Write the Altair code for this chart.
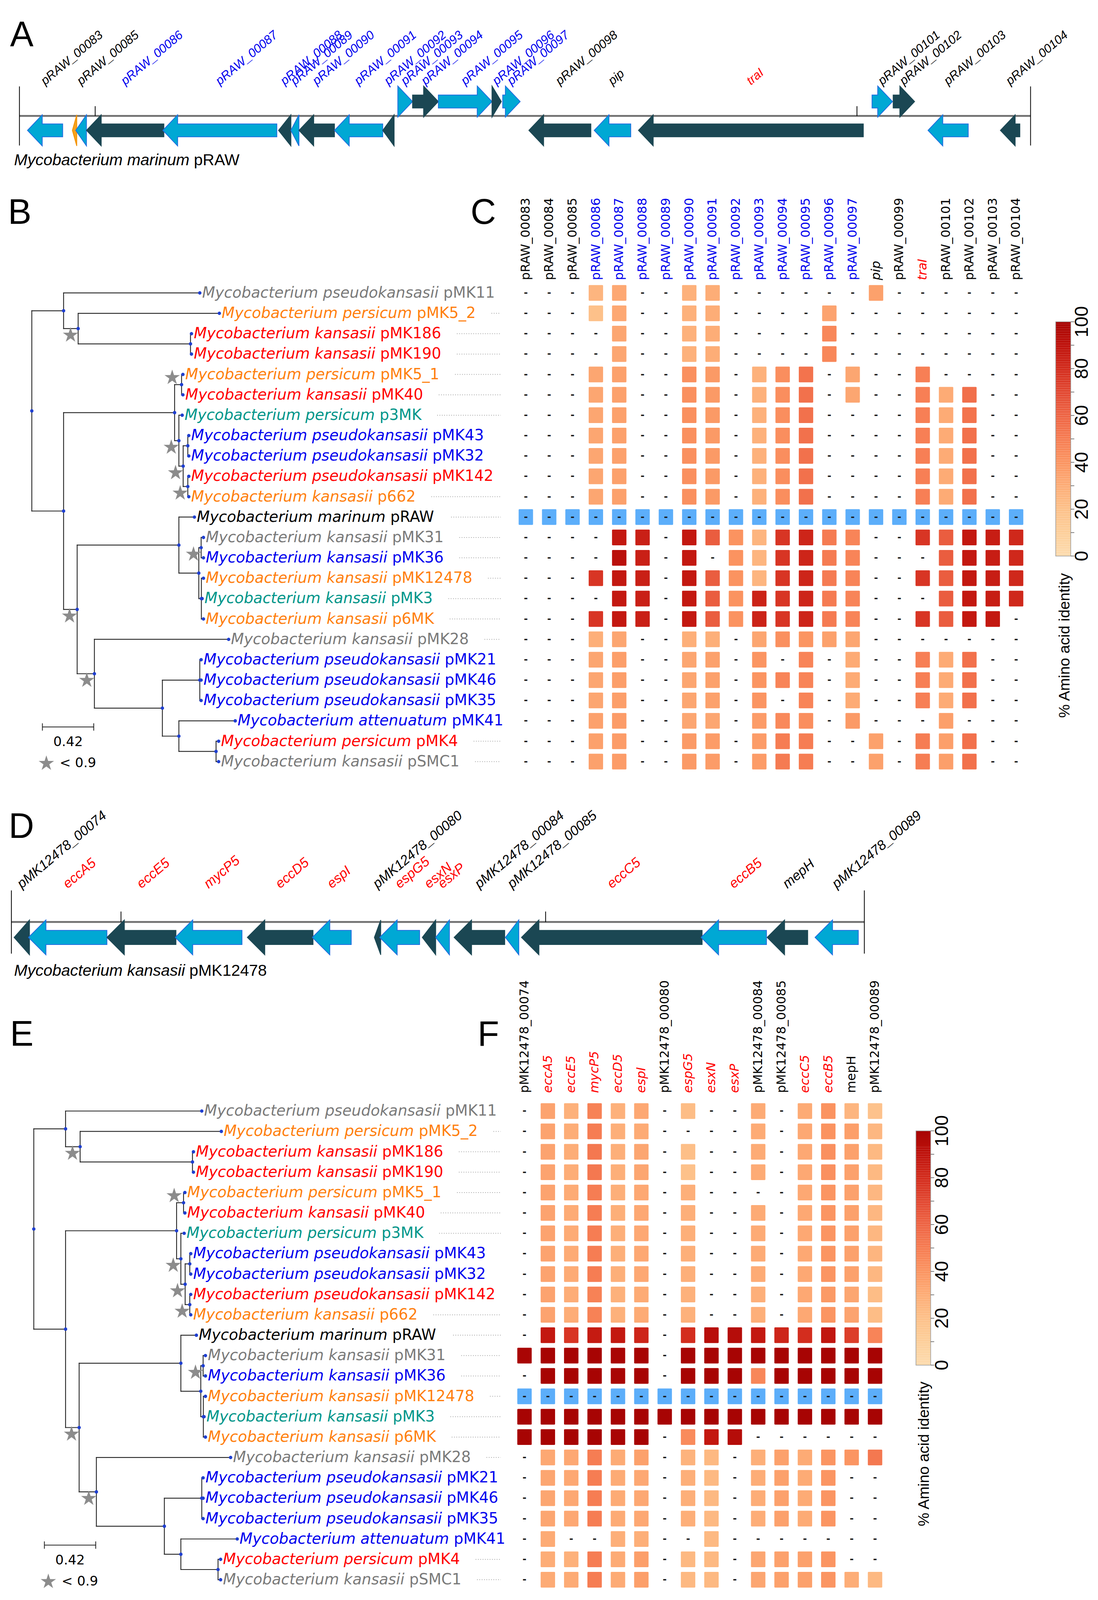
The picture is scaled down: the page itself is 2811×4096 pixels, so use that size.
import altair as alt
import pandas as pd

S = 0.858          # reference px -> page px
MRG = 8            # page margin


def P(v):
    return v * S - MRG


CW, CH = 2795, 4080
N = None

# ---------------- colours ----------------
LIGHT, LIGHT_EDGE = "#00a8d4", "#1d6ce0"
DARK = "#1b4753"
ORANGE, ORANGE_EDGE = "#f7a21e", "#f29100"
REF_BLUE = "#5caefa"
GRAY, ORG, RED, TEAL, BLUE, BLACK = "#7a7a7a", "#ff7f0e", "#ff0000", "#00968a", "#0000ee", "#000000"
KIND_FILL = {"light": LIGHT, "dark": DARK, "orange": ORANGE}
KIND_EDGE = {"light": LIGHT_EDGE, "dark": DARK, "orange": ORANGE_EDGE}
HEAT = alt.Scale(scheme="orangered", domain=[0, 100])

# ---------------- panel A data (pRAW locus, bp) ----------------
A_LABELS = ["pRAW_00083", "", "pRAW_00085", "pRAW_00086", "pRAW_00087", "pRAW_00088", "pRAW_00089",
            "pRAW_00090", "pRAW_00091", "pRAW_00092", "pRAW_00093", "pRAW_00094", "pRAW_00095",
            "pRAW_00096", "pRAW_00097", "pRAW_00098", "pip", "traI", "pRAW_00101", "pRAW_00102",
            "pRAW_00103", "pRAW_00104"]
A_START = [240, 1580, 1680, 2000, 4280, 7730, 8100, 8340, 9400, 10840, 11290, 11730, 12500, 14100,
           14420, 15200, 17150, 18470, 25440, 26070, 27110, 29270]
A_END = [1290, 1710, 2000, 4310, 7680, 8100, 8340, 9400, 10840, 11180, 11730, 12500, 14100, 14380,
         14940, 17050, 18240, 25180, 26050, 26710, 28310, 29850]
A_STRAND = [-1, -1, -1, -1, -1, -1, -1, -1, -1, -1, 1, 1, 1, 1, 1, -1, -1, -1, 1, 1, -1, -1]
A_KIND = ["light", "orange", "light", "dark", "light", "dark", "light", "dark", "light", "dark",
          "light", "dark", "light", "dark", "light", "dark", "light", "dark", "light", "dark",
          "light", "dark"]
A_LCOLOR = [BLACK, BLACK, BLACK] + [BLUE] * 12 + [BLACK, BLACK, RED, BLACK, BLACK, BLACK, BLACK]
A_LENGTH = 30170
A_TICKS = [2260, 24990]

# ---------------- panel D data (pMK12478 ESX locus, bp) ----------------
D_LABELS = ["pMK12478_00074", "eccA5", "eccE5", "mycP5", "eccD5", "espI", "pMK12478_00080",
            "espG5", "esxN", "esxP", "pMK12478_00084", "pMK12478_00085", "eccC5", "eccB5", "mepH",
            "pMK12478_00089"]
D_START = [80, 510, 2850, 4890, 7040, 8980, 10830, 10990, 12260, 12660, 13210, 14740, 15220,
           20580, 22550, 23980]
D_END = [540, 2850, 4910, 6880, 9000, 10140, 11020, 12180, 12660, 13070, 14720, 15140, 20610,
         22530, 23760, 25270]
D_STRAND = [-1] * 16
D_KIND = ["dark", "light"] * 8
D_LCOLOR = [BLACK, RED, RED, RED, RED, RED, BLACK, RED, RED, RED, BLACK, BLACK, RED, RED, BLACK, BLACK]
D_LENGTH = 25450
D_TICKS = [3270, 15940]

# ---------------- phylogeny ----------------
TIPS = ["pMK11", "pMK5_2", "pMK186", "pMK190", "pMK5_1", "pMK40", "p3MK", "pMK43", "pMK32",
        "pMK142", "p662", "pRAW", "pMK31", "pMK36", "pMK12478", "pMK3", "p6MK", "pMK28", "pMK21",
        "pMK46", "pMK35", "pMK41", "pMK4", "pSMC1"]
PSK, PER, KAN = "Mycobacterium pseudokansasii", "Mycobacterium persicum", "Mycobacterium kansasii"
TIP_SPECIES = [PSK, PER, KAN, KAN, PER, KAN, PER, PSK, PSK, PSK, KAN, "Mycobacterium marinum",
               KAN, KAN, KAN, KAN, KAN, KAN, PSK, PSK, PSK, "Mycobacterium attenuatum", PER, KAN]
TIP_COLOR = [GRAY, ORG, RED, RED, ORG, RED, TEAL, BLUE, BLUE, RED, ORG, BLACK, GRAY, BLUE, ORG,
             TEAL, ORG, GRAY, BLUE, BLUE, BLUE, BLUE, RED, GRAY]
TREE_NODE = ["root", "U", "pMK11", "U2", "pMK5_2", "U3", "pMK186", "pMK190", "L", "L1", "L1a",
             "pMK5_1", "pMK40", "L1b", "p3MK", "L1c", "L1d", "pMK43", "pMK32", "L1e", "pMK142",
             "p662", "L2", "L2a", "pRAW", "L2c", "L2d", "pMK31", "pMK36", "L2e", "pMK12478", "pMK3",
             "p6MK", "L2b", "pMK28", "L2f", "L2g", "pMK21", "pMK46", "pMK35", "L2h", "pMK41", "L2i",
             "pMK4", "pSMC1"]
TREE_PARENT = [None, "root", "U", "U", "U2", "U2", "U3", "U3", "root", "L", "L1", "L1a", "L1a",
               "L1", "L1b", "L1b", "L1c", "L1d", "L1d", "L1c", "L1e", "L1e", "L", "L2", "L2a",
               "L2a", "L2c", "L2d", "L2d", "L2c", "L2e", "L2e", "L2e", "L2", "L2b", "L2b", "L2f",
               "L2g", "L2g", "L2g", "L2f", "L2h", "L2h", "L2i", "L2i"]
TREE_DEPTH = [0.0, 0.260, 1.374, 0.379, 1.534, 1.298, 1.306, 1.306, 0.260, 1.168, 1.225, 1.236,
              1.236, 1.203, 1.230, 1.238, 1.276, 1.284, 1.284, 1.276, 1.284, 1.284, 0.371, 1.203,
              1.330, 1.366, 1.385, 1.404, 1.404, 1.387, 1.404, 1.393, 1.404, 0.512, 1.610, 1.068,
              1.374, 1.385, 1.385, 1.385, 1.203, 1.664, 1.507, 1.528, 1.528]
STAR_BELOW = ["U2", "L1b", "L1c", "L1e", "L2d", "L2", "L2b"]
STAR_ABOVE = ["L1a"]
SCALE_BAR = 0.42

# ---------------- heatmap C (pRAW genes) ----------------
C_COLS = ["pRAW_00083", "pRAW_00084", "pRAW_00085", "pRAW_00086", "pRAW_00087", "pRAW_00088",
          "pRAW_00089", "pRAW_00090", "pRAW_00091", "pRAW_00092", "pRAW_00093", "pRAW_00094",
          "pRAW_00095", "pRAW_00096", "pRAW_00097", "pip", "pRAW_00099", "traI", "pRAW_00101",
          "pRAW_00102", "pRAW_00103", "pRAW_00104"]
C_COL_COLOR = [BLACK, BLACK, BLACK] + [BLUE] * 12 + [BLACK, BLACK, RED, BLACK, BLACK, BLACK, BLACK]
C_COL_ITALIC = [False] * 15 + [True, False, True, False, False, False, False]
C_REF = "pRAW"
C_VALUES = [
    [N, N, N, 26, 32, N, N, 28, 30, N, N, N, N, N, N, 35, N, N, N, N, N, N],
    [N, N, N, 20, 32, N, N, 28, 30, N, N, N, N, 34, N, N, N, N, N, N, N, N],
    [N, N, N, N, 33, N, N, 28, 30, N, N, N, N, 46, N, N, N, N, N, N, N, N],
    [N, N, N, N, 33, N, N, 28, 30, N, N, N, N, 46, N, N, N, N, N, N, N, N],
    [N, N, N, 33, 35, N, N, 42, 38, N, 28, 43, 54, N, 33, N, N, 49, N, N, N, N],
    [N, N, N, 33, 35, N, N, 42, 38, N, 28, 43, 55, N, 33, N, N, 49, 31, 56, N, N],
    [N, N, N, 33, 35, N, N, 42, 38, N, 28, 43, 55, N, N, N, N, 49, 31, 54, N, N],
    [N, N, N, 33, 35, N, N, 42, 38, N, 28, 43, 55, N, N, N, N, 49, 31, 55, N, N],
    [N, N, N, 33, 35, N, N, 42, 38, N, 28, 43, 55, N, N, N, N, 49, 31, 55, N, N],
    [N, N, N, 33, 35, N, N, 42, 38, N, 28, 43, 55, N, N, N, N, 49, 31, 55, N, N],
    [N, N, N, 33, 35, N, N, 42, 38, N, 28, 43, 55, N, N, N, N, 49, 31, 55, N, N],
    [N] * 22,
    [N, N, N, N, 88, 85, N, 88, 63, 41, 26, 77, 83, 51, 47, N, N, 77, 63, 88, 86, 82],
    [N, N, N, N, 92, 85, N, 88, N, 41, 26, 77, 83, 51, 47, N, N, N, 63, 88, 86, 82],
    [N, N, N, 77, 88, 85, N, 88, 63, 41, 26, 77, 83, 51, 47, N, N, 77, 63, 88, 86, 82],
    [N, N, N, N, 88, 85, N, 88, 63, 41, 84, 77, 83, 51, 47, N, N, N, 63, 88, 86, 82],
    [N, N, N, 77, 88, 85, N, 88, 63, 41, 84, 77, 83, 51, 47, N, N, 77, 63, 88, 88, N],
    [N, N, N, 29, 33, N, N, 29, 29, N, 33, 42, 40, 35, 33, N, N, N, N, N, N, N],
    [N, N, N, 33, 36, N, N, 33, 35, N, 40, N, 47, N, 31, N, N, 49, 31, 55, N, N],
    [N, N, N, 33, 36, N, N, 33, 35, N, 40, 47, 47, N, 31, N, N, 49, 31, 55, N, N],
    [N, N, N, 33, 36, N, N, 33, 35, N, 40, N, 47, N, 31, N, N, 49, 31, 55, N, N],
    [N, N, N, 35, 37, N, N, 33, 33, N, 37, 45, 43, N, 38, N, N, N, 36, N, N, N],
    [N, N, N, 35, 37, N, N, 38, 37, N, 37, 50, 50, N, N, 35, N, 50, 36, 55, N, N],
    [N, N, N, 35, 37, N, N, 38, 37, N, 37, 51, 50, N, N, 35, N, 50, 36, 55, N, N],
]

# ---------------- heatmap F (ESX-5 like locus) ----------------
F_COLS = D_LABELS
F_COL_COLOR = D_LCOLOR
F_COL_ITALIC = [c == RED for c in D_LCOLOR]
F_REF = "pMK12478"
F_VALUES = [
    [N, 34, 28, 48, 28, 32, N, 22, N, N, 31, N, 31, 41, 26, 19],
    [N, 34, 30, 50, 29, 31, N, N, N, N, 31, N, 32, 41, 36, 25],
    [N, 34, 30, 52, 29, 33, N, 21, N, N, 31, N, 32, 42, 35, 24],
    [N, 34, 30, 52, 29, 33, N, 20, N, N, 31, N, 32, 42, 35, 24],
    [N, 34, 31, 50, 29, 32, N, 29, N, N, N, N, 32, 40, 35, 25],
    [N, 34, 31, 50, 29, 32, N, 29, N, N, 31, N, 32, 40, 35, 25],
    [N, 34, 31, 50, 29, 32, N, 29, N, N, 31, N, 32, 40, 35, 25],
    [N, 34, 31, 50, 29, 32, N, 29, N, N, 31, N, 32, 40, 35, 26],
    [N, 34, 31, 50, 29, 32, N, 29, N, N, 31, N, 32, 40, 35, 25],
    [N, 34, 30, 48, 28, 31, N, 28, N, N, 29, N, 32, 38, 33, 22],
    [N, 34, 30, 48, 28, 31, N, 28, N, N, 29, N, 32, 40, 34, 22],
    [N, 88, 77, 87, 88, 83, N, 80, 93, 94, 88, 83, 80, 89, 74, 47],
    [99, 100, 100, 100, 99, 100, N, 100, 100, 100, 100, 100, 100, 100, 100, 100],
    [N, 100, 100, 100, 99, 100, N, 100, 100, 100, 46, 100, 100, 100, 100, 100],
    [N] * 16,
    [100, 100, 100, 100, 100, 100, 100, 100, 100, 100, 100, 100, 100, 100, 100, 100],
    [100, 100, 100, 100, 99, 100, N, 44, 88, 94, N, N, N, N, N, N],
    [N, 32, 32, 50, 31, 35, N, 27, 24, N, 29, 35, 31, 40, 40, 52],
    [N, 33, 32, 50, 31, 32, N, 29, 24, N, 30, 35, 31, 40, N, N],
    [N, 33, 32, 50, 31, 32, N, 29, 24, N, 30, 35, 31, 40, N, N],
    [N, 33, 32, 50, 31, 32, N, 29, 24, N, 30, 35, 31, 40, N, N],
    [N, 31, N, N, 29, 29, N, N, 24, N, N, N, N, N, N, N],
    [N, 30, 28, 50, 31, 36, N, 24, 24, N, 33, 35, 35, 40, N, N],
    [N, 31, 31, 50, 31, 36, N, 24, 24, N, 33, 35, 35, 40, 30, 24],
]

# ---------------- font advance widths (for placing mixed-style labels) ----------------
DV = {" ": 651, "a": 1255, "b": 1300, "c": 1126, "d": 1300, "e": 1260, "i": 569, "k": 1186,
      "m": 1995, "n": 1298, "o": 1253, "p": 1300, "r": 842, "s": 1067, "t": 803, "u": 1298,
      "y": 1212, "M": 1767, "K": 1343, "S": 1300, "C": 1430, "R": 1423, "A": 1401, "W": 2025,
      "_": 1024}
AR = {" ": 278, "M": 833, "y": 500, "c": 500, "o": 556, "b": 556, "a": 556, "t": 278, "e": 556,
      "r": 333, "i": 222, "u": 556, "m": 833, "n": 556, "s": 500, "k": 500, "p": 556}


def w_dv(s, fs):
    return sum(DV.get(ch, 1303) for ch in s) / 2048 * fs


def w_ar(s, fs):
    return sum(AR.get(ch, 556) for ch in s) / 1000 * fs


STAR = ("M0,-1L0.2245,-0.309L0.951,-0.309L0.363,0.118L0.588,0.809L0,0.382L-0.588,0.809"
        "L-0.363,0.118L-0.951,-0.309L-0.2245,-0.309Z")
ONE = pd.DataFrame({"a": [0]})
LABEL_ANGLE = 320


def gene_map(labels, starts, ends, strands, kinds, lcolors, length, ticks, x_rng, y_rng,
             head_bp, body, headh, label_y, label_fs, species, plasmid, cap_x, cap_y, cap_fs):
    xs = alt.Scale(domain=[0, length], range=x_rng, zero=False, nice=False)
    ys = alt.Scale(domain=[-1, 1], range=y_rng, zero=False, nice=False)

    def X(f):
        return alt.X(f, scale=xs, axis=None)

    def Y(f):
        return alt.Y(f, scale=ys, axis=None)

    L = []
    bb = pd.DataFrame({"x": [0], "x2": [length], "y": [0]})
    L.append(alt.Chart(bb).mark_rule(color="#b8b8b8", strokeWidth=6).encode(
        x=X("x:Q"), x2="x2:Q", y=Y("y:Q")))
    L.append(alt.Chart(bb).mark_rule(color="#3a3a3a", strokeWidth=2).encode(
        x=X("x:Q"), x2="x2:Q", y=Y("y:Q")))
    bars = pd.DataFrame({"x": [0, length], "y": [-2.05, -2.05], "y2": [2.05, 2.05]})
    L.append(alt.Chart(bars).mark_rule(color="black", strokeWidth=2).encode(
        x=X("x:Q"), y=Y("y:Q"), y2="y2:Q"))
    tk = pd.DataFrame({"x": ticks, "y": [0] * len(ticks), "y2": [0.68] * len(ticks)})
    L.append(alt.Chart(tk).mark_rule(color="black", strokeWidth=2).encode(
        x=X("x:Q"), y=Y("y:Q"), y2="y2:Q"))

    rows = []
    for i, (s0, e0, st, k) in enumerate(zip(starts, ends, strands, kinds)):
        c = float(st)
        g = f"g{i:02d}"
        ln = e0 - s0
        if st < 0:
            if ln <= head_bp:
                pts = [(s0, c, c), (e0, c + headh, c - headh)]
            else:
                hb = s0 + head_bp
                pts = [(s0, c, c), (hb, c + headh, c - headh), (hb + 1, c + body, c - body),
                       (e0, c + body, c - body)]
        else:
            if ln <= head_bp:
                pts = [(s0, c + headh, c - headh), (e0, c, c)]
            else:
                hb = e0 - head_bp
                pts = [(s0, c + body, c - body), (hb - 1, c + body, c - body),
                       (hb, c + headh, c - headh), (e0, c, c)]
        for (px, py, py2) in pts:
            rows.append({"gene": g, "x": px, "y": py, "y2": py2, "fill": KIND_FILL[k],
                         "stroke": KIND_EDGE[k]})
    adf = pd.DataFrame(rows)
    L.append(alt.Chart(adf).mark_area(orient="vertical", strokeWidth=2, strokeJoin="miter",
                                      interpolate="linear").encode(
        x=X("x:Q"), y=Y("y:Q"), y2="y2:Q", detail="gene:N",
        fill=alt.Fill("fill:N", scale=None), stroke=alt.Stroke("stroke:N", scale=None)))

    lab = pd.DataFrame({"x": [(a + b) / 2 for a, b in zip(starts, ends)], "text": labels,
                        "tc": lcolors, "y": [label_y] * len(labels)})
    lab = lab[lab["text"] != ""]
    L.append(alt.Chart(lab).mark_text(angle=LABEL_ANGLE, align="left", baseline="alphabetic",
                                      font="Liberation Sans", fontStyle="italic",
                                      fontSize=label_fs).encode(
        x=X("x:Q"), y=Y("y:Q"), text="text:N", color=alt.Color("tc:N", scale=None)))

    L.append(alt.Chart(ONE).mark_text(text=species, align="left", baseline="alphabetic",
                                      font="Liberation Sans", fontStyle="italic",
                                      fontSize=cap_fs, color="black").encode(
        x=alt.value(P(cap_x)), y=alt.value(P(cap_y))))
    L.append(alt.Chart(ONE).mark_text(text=plasmid, align="left", baseline="alphabetic",
                                      font="Liberation Sans", fontSize=cap_fs,
                                      color="black").encode(
        x=alt.value(P(cap_x) + w_ar(species + " ", cap_fs)), y=alt.value(P(cap_y))))
    return L


def tree_layers(X0, Y0):
    K = 364.8 * S
    R0 = P(X0)
    xs = alt.Scale(domain=[0, 1], range=[R0, R0 + K], zero=False, nice=False)
    ystep = 60.8 * S
    ys = alt.Scale(domain=[0, 23], range=[P(Y0), P(Y0) + 23 * ystep], zero=False, nice=False)

    def X(f):
        return alt.X(f, scale=xs, axis=None)

    def Y(f):
        return alt.Y(f, scale=ys, axis=None)

    depth = dict(zip(TREE_NODE, TREE_DEPTH))
    children = {}
    for n, p in zip(TREE_NODE, TREE_PARENT):
        if p is not None:
            children.setdefault(p, []).append(n)

    def row(n):
        if n in TIPS:
            return float(TIPS.index(n))
        ch = children[n]
        return (row(ch[0]) + row(ch[-1])) / 2

    segs = []
    for n, p in zip(TREE_NODE, TREE_PARENT):
        if p is not None:
            segs.append({"x": depth[p], "x2": depth[n], "y": row(n), "y2": row(n)})
        if n in children:
            ch = children[n]
            segs.append({"x": depth[n], "x2": depth[n], "y": row(ch[0]), "y2": row(ch[-1])})
    sdf = pd.DataFrame(segs)
    L = [alt.Chart(sdf).mark_rule(color="#222222", strokeWidth=2.2, strokeCap="square").encode(
        x=X("x:Q"), x2="x2:Q", y=Y("y:Q"), y2="y2:Q")]

    ndf = pd.DataFrame({"x": [depth[n] for n in TREE_NODE], "y": [row(n) for n in TREE_NODE]})
    L.append(alt.Chart(ndf).mark_circle(size=75, color="#1f3fd0", opacity=1).encode(
        x=X("x:Q"), y=Y("y:Q")))

    fs = 38.5
    sp, pl, ld = [], [], []
    for i, t in enumerate(TIPS):
        tip_px = R0 + depth[t] * K
        sx = tip_px + 6
        px = sx + w_dv(TIP_SPECIES[i] + " ", fs)
        ex = px + w_dv(t, fs)
        sp.append({"x": (sx - R0) / K, "y": i, "text": TIP_SPECIES[i], "tc": TIP_COLOR[i]})
        pl.append({"x": (px - R0) / K, "y": i, "text": t, "tc": TIP_COLOR[i]})
        a, b = ex + 40, P(1494)
        if b - a > 12:
            ld.append({"x": (a - R0) / K, "x2": (b - R0) / K, "y": i})
    L.append(alt.Chart(pd.DataFrame(ld)).mark_rule(color="#a8a8a8", strokeWidth=2,
                                                    strokeDash=[2, 4]).encode(
        x=X("x:Q"), x2="x2:Q", y=Y("y:Q")))
    L.append(alt.Chart(pd.DataFrame(sp)).mark_text(align="left", baseline="middle",
                                                   font="DejaVu Sans", fontStyle="italic",
                                                   fontSize=fs).encode(
        x=X("x:Q"), y=Y("y:Q"), text="text:N", color=alt.Color("tc:N", scale=None)))
    L.append(alt.Chart(pd.DataFrame(pl)).mark_text(align="left", baseline="middle",
                                                   font="DejaVu Sans", fontSize=fs).encode(
        x=X("x:Q"), y=Y("y:Q"), text="text:N", color=alt.Color("tc:N", scale=None)))

    st = []
    for n in STAR_BELOW:
        st.append({"x": depth[n] - 19.5 / K, "y": row(n) + 17 / ystep})
    for n in STAR_ABOVE:
        st.append({"x": depth[n] - 24 / K, "y": row(n) - 18 / ystep})
    st.append({"x": 0.119, "y": 23.09})
    L.append(alt.Chart(pd.DataFrame(st)).mark_point(shape=STAR, filled=True, size=1700,
                                                    color="#8c8c8c", opacity=1,
                                                    strokeWidth=0).encode(
        x=X("x:Q"), y=Y("y:Q")))

    b0 = 0.0867
    sb = pd.DataFrame({"x": [b0, b0, b0 + SCALE_BAR], "x2": [b0 + SCALE_BAR, b0, b0 + SCALE_BAR],
                       "y": [21.3, 21.12, 21.12], "y2": [21.3, 21.48, 21.48]})
    L.append(alt.Chart(sb).mark_rule(color="#222222", strokeWidth=2).encode(
        x=X("x:Q"), x2="x2:Q", y=Y("y:Q"), y2="y2:Q"))
    sbl = pd.DataFrame({"x": [b0 + SCALE_BAR / 2], "y": [22.05], "text": [f"{SCALE_BAR:.2f}"]})
    L.append(alt.Chart(sbl).mark_text(align="center", baseline="middle", font="DejaVu Sans",
                                      fontSize=34, color="black").encode(
        x=X("x:Q"), y=Y("y:Q"), text="text:N"))
    stl = pd.DataFrame({"x": [0.228], "y": [23.09], "text": ["< 0.9"]})
    L.append(alt.Chart(stl).mark_text(align="left", baseline="middle", font="DejaVu Sans",
                                      fontSize=34, color="black").encode(
        x=X("x:Q"), y=Y("y:Q"), text="text:N"))
    return L


def heatmap(cols, col_colors, col_italic, values, ref, xc0, dx, yc0, label_y):
    n = len(cols)
    xs = alt.Scale(type="band", domain=cols,
                   range=[P(xc0 - dx / 2), P(xc0 + (n - 1) * dx + dx / 2)],
                   paddingInner=0.383, paddingOuter=0.1915)
    ys = alt.Scale(type="band", domain=TIPS,
                   range=[P(yc0 - 30.4), P(yc0 + 23 * 60.8 + 30.4)],
                   paddingInner=0.228, paddingOuter=0.114)

    def X(f):
        return alt.X(f, scale=xs, axis=None)

    def Y(f):
        return alt.Y(f, scale=ys, axis=None)

    recs = []
    for r, vals in zip(TIPS, values):
        for c, v in zip(cols, vals):
            recs.append({"r": r, "c": c, "v": v, "ref": r == ref})
    df = pd.DataFrame(recs)
    cells = df[(~df["ref"]) & df["v"].notna()]
    refs = df[df["ref"]]
    dashes = df[df["ref"] | df["v"].isna()]
    L = [
        alt.Chart(cells).mark_rect(cornerRadius=2).encode(
            x=X("c:N"), y=Y("r:N"), color=alt.Color("v:Q", scale=HEAT, legend=None)),
        alt.Chart(refs).mark_rect(cornerRadius=2, color=REF_BLUE).encode(x=X("c:N"), y=Y("r:N")),
        alt.Chart(dashes).mark_text(text="-", font="DejaVu Sans", fontWeight="bold",
                                    fontSize=25, color="#1a1a1a", baseline="alphabetic",
                                    dy=7).encode(x=X("c:N"), y=Y("r:N")),
    ]
    lab = pd.DataFrame({"c": cols, "tc": col_colors, "it": col_italic})
    for it, style in ((False, "normal"), (True, "italic")):
        sub = lab[lab["it"] == it]
        if len(sub):
            L.append(alt.Chart(sub).mark_text(angle=270, align="left", baseline="middle",
                                              font="DejaVu Sans", fontStyle=style,
                                              fontSize=32).encode(
                x=X("c:N"), y=alt.value(P(label_y)), text="c:N",
                color=alt.Color("tc:N", scale=None)))
    return L


def colorbar(x0, x1, ytop, ybot, lab_x, title_x, title_y):
    ys = alt.Scale(domain=[0, 100], range=[P(ybot), P(ytop)], zero=False, nice=False)
    g = pd.DataFrame({"v": list(range(100)), "v2": [v + 1 for v in range(100)],
                      "c": [v + 0.5 for v in range(100)]})
    L = [alt.Chart(g).mark_rect().encode(
        x=alt.value(P(x0)), x2=alt.value(P(x1)), y=alt.Y("v:Q", scale=ys, axis=None), y2="v2:Q",
        color=alt.Color("c:Q", scale=HEAT, legend=None))]
    ob = pd.DataFrame({"v": [0], "v2": [100]})
    L.append(alt.Chart(ob).mark_rect(fillOpacity=0, stroke="#9a9a9a", strokeWidth=1.5).encode(
        x=alt.value(P(x0)), x2=alt.value(P(x1)), y=alt.Y("v:Q", scale=ys, axis=None), y2="v2:Q"))
    tk = pd.DataFrame({"v": list(range(0, 101, 10))})
    L.append(alt.Chart(tk).mark_rule(color="#555555", strokeWidth=1.5).encode(
        x=alt.value(P(x1)), x2=alt.value(P(x1) + 9), y=alt.Y("v:Q", scale=ys, axis=None)))
    lb = pd.DataFrame({"v": list(range(0, 101, 20)), "t": [str(v) for v in range(0, 101, 20)]})
    L.append(alt.Chart(lb).mark_text(angle=270, align="center", baseline="middle",
                                     font="Liberation Sans", fontSize=48, color="black").encode(
        x=alt.value(P(lab_x)), y=alt.Y("v:Q", scale=ys, axis=None), text="t:N"))
    L.append(alt.Chart(ONE).mark_text(text="% Amino acid identity", angle=270, align="center",
                                      baseline="middle", font="Liberation Sans", fontSize=39,
                                      color="black").encode(
        x=alt.value(P(title_x)), y=alt.value(P(title_y))))
    return L


layers = []
layers += gene_map(A_LABELS, A_START, A_END, A_STRAND, A_KIND, A_LCOLOR, A_LENGTH, A_TICKS,
                   [P(58), P(3075)], [P(389), P(303)], 440, 0.45, 1.08, 2.12, 31.5,
                   "Mycobacterium marinum", "pRAW", 42, 493, 41)
layers += gene_map(D_LABELS, D_START, D_END, D_STRAND, D_KIND, D_LCOLOR, D_LENGTH, D_TICKS,
                   [P(34), P(2579)], [P(2797), P(2705)], 520, 0.46, 1.13, 2.15, 35,
                   "Mycobacterium kansasii", "pMK12478", 42, 2912, 41)
layers += tree_layers(94.9, 874)
layers += tree_layers(100.8, 3315)
layers += heatmap(C_COLS, C_COL_COLOR, C_COL_ITALIC, C_VALUES, C_REF, 1569, 69.66, 874, 836)
layers += heatmap(F_COLS, F_COL_COLOR, F_COL_ITALIC, F_VALUES, F_REF, 1565, 69.73, 3315, 3261)
layers += colorbar(3150, 3195, 960, 1659, 3230, 3177, 1926)
layers += colorbar(2733, 2777, 3374, 4073, 2812, 2757, 4338)

for letter, lx, ly in (("A", 30, 137), ("B", 24, 668), ("C", 1404, 668), ("D", 26, 2500),
                       ("E", 30, 3120), ("F", 1425, 3120)):
    layers.append(alt.Chart(ONE).mark_text(text=letter, align="left", baseline="alphabetic",
                                           font="Liberation Sans", fontSize=90,
                                           color="black").encode(
        x=alt.value(P(lx)), y=alt.value(P(ly))))

chart = alt.layer(*layers).resolve_scale(
    x="independent", y="independent", color="independent", fill="independent",
    stroke="independent"
).properties(
    width=CW, height=CH, padding=0, autosize=alt.AutoSizeParams(type="none")
).configure_view(stroke=None)

chart.save("out.html", embed_options={"renderer": "svg", "actions": False})
